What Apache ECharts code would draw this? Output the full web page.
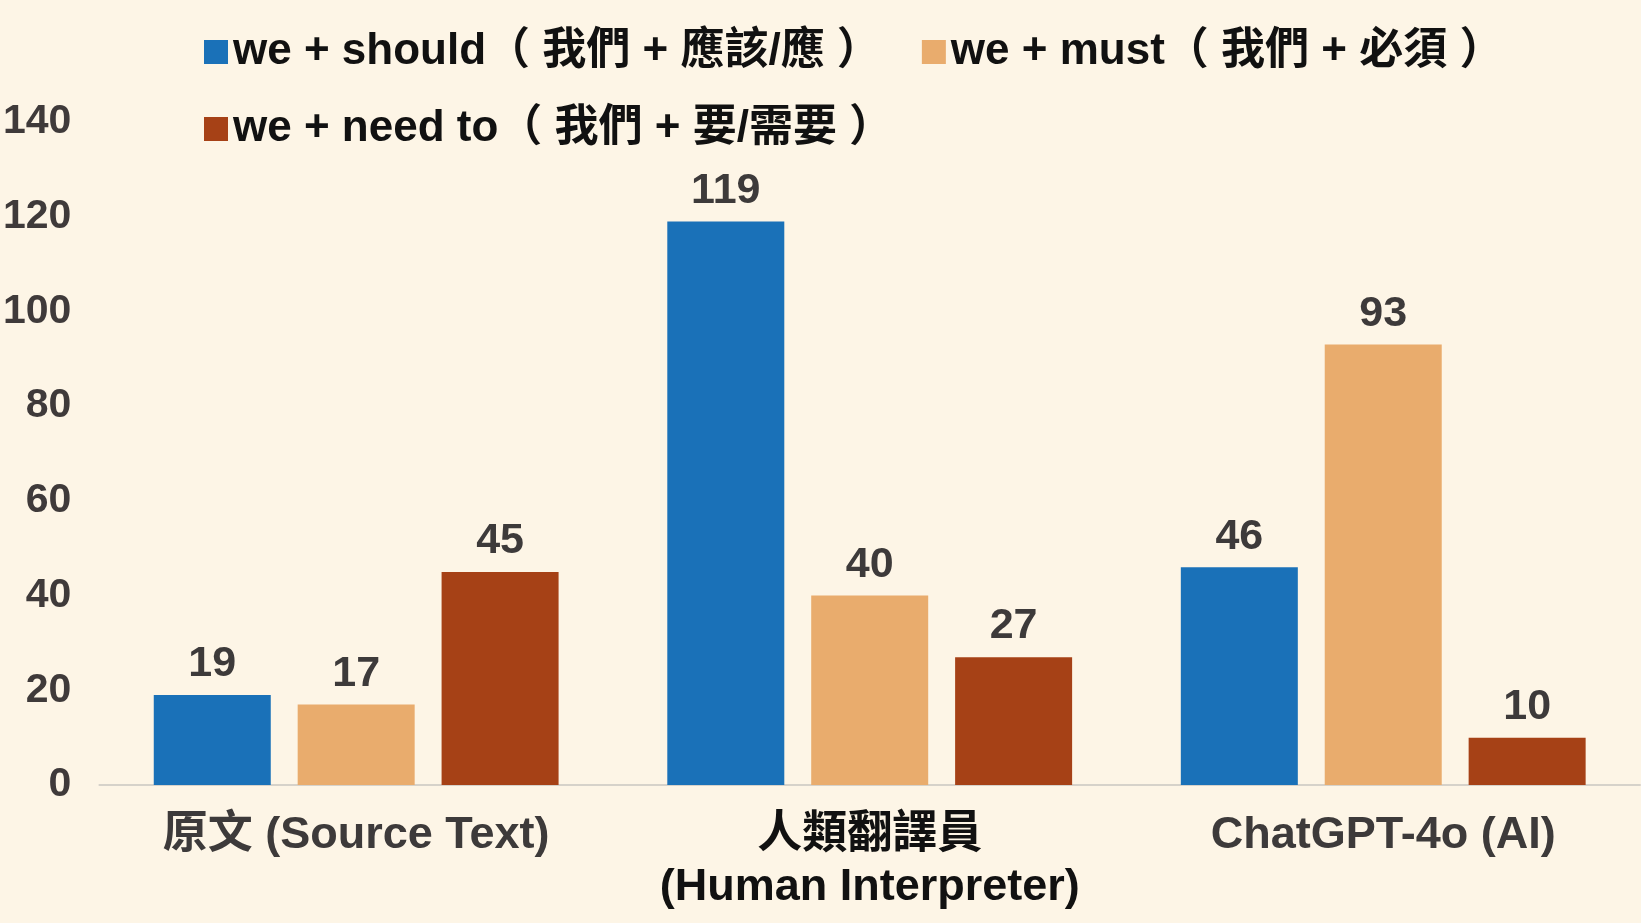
<!DOCTYPE html>
<html>
<head>
<meta charset="utf-8">
<script src="https://cdn.jsdelivr.net/npm/echarts@6/dist/echarts.min.js"></script>
<style>
  html, body { margin: 0; padding: 0; background: #fdf5e6; }
  #chart { width: 1641px; height: 923px; }
</style>
</head>
<body>
<div id="chart"></div>
<script>
// ===== Data =====
const categories = ['原文 (Source Text)', '人類翻譯員\n(Human Interpreter)', 'ChatGPT-4o (AI)'];
const seriesNames = [
  'we + should（ 我們 + 應該/應 ）',
  'we + must（ 我們 + 必須 ）',
  'we + need to（ 我們 + 要/需要 ）'
];
const shouldValues = [19, 119, 46];
const mustValues = [17, 40, 93];
const needValues = [45, 27, 10];
const yTicks = { min: 0, max: 140, interval: 20 };

const colors = ['#1a71b8', '#e9ac6d', '#a64116'];
const FONT = '"Liberation Sans", Arial, "Noto Sans CJK TC", sans-serif';

function initChart() {
  const chart = echarts.init(document.getElementById('chart'));

  const legendText = { color: '#111111', fontSize: 44, fontWeight: 'bold', fontFamily: FONT };

  const barSeries = [shouldValues, mustValues, needValues].map((values, i) => ({
    name: seriesNames[i],
    type: 'bar',
    data: values,
    barWidth: 117,
    barGap: '23%',
    itemStyle: { color: colors[i] },
    label: {
      show: true,
      position: 'top',
      distance: 9,
      color: '#3d3a3a',
      fontSize: 43,
      fontWeight: 'bold',
      fontFamily: FONT
    }
  }));

  const option = {
    backgroundColor: '#fdf5e6',
    animation: false,
    legend: [
      {
        data: [seriesNames[0], seriesNames[1]],
        left: 204,
        top: 30,
        padding: 0,
        itemWidth: 24,
        itemHeight: 24,
        itemGap: 41,
        itemTextGap: 14,
        icon: 'rect',
        textStyle: legendText
      },
      {
        data: [seriesNames[2]],
        left: 204,
        top: 107,
        padding: 0,
        itemWidth: 24,
        itemHeight: 24,
        itemTextGap: 14,
        icon: 'rect',
        textStyle: legendText
      }
    ],
    grid: { left: 89, right: 1, top: 122, bottom: 138, containLabel: false },
    xAxis: {
      type: 'category',
      data: categories,
      axisLine: { lineStyle: { color: '#d6d2ca', width: 2 } },
      axisTick: { show: false },
      axisLabel: {
        interval: 0,
        margin: 25,
        fontSize: 45,
        lineHeight: 52,
        fontWeight: 'bold',
        fontFamily: FONT,
        color: '#3d3a3a',
        formatter: (v, idx) => idx === 1 ? '{dark|' + v.split('\n').join('}\n{dark|') + '}' : v,
        rich: {
          dark: { color: '#111111', fontSize: 45, lineHeight: 52, fontWeight: 'bold', fontFamily: FONT }
        }
      }
    },
    yAxis: {
      type: 'value',
      min: yTicks.min,
      max: yTicks.max,
      interval: yTicks.interval,
      axisLine: { show: false },
      axisTick: { show: false },
      splitLine: { show: false },
      axisLabel: {
        margin: 28,
        padding: [6, 0, 0, 0],
        fontSize: 41,
        fontWeight: 'bold',
        fontFamily: FONT,
        color: '#3f3a3a'
      }
    },
    series: barSeries
  };

  chart.setOption(option);
  window.addEventListener('resize', () => chart.resize());
}

initChart();
</script>
</body>
</html>
